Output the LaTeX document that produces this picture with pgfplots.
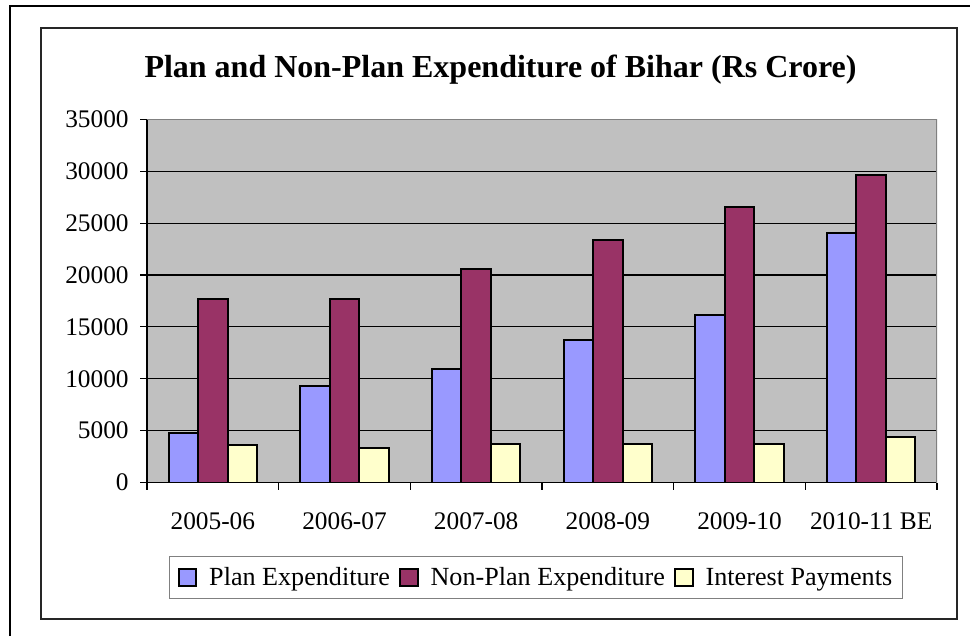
\documentclass[border=0pt]{standalone}
\usepackage{pgfplots}
\pgfplotsset{compat=1.18}
\usepackage{fontspec}
\setmainfont{Liberation Serif}

\definecolor{planc}{HTML}{9999FF}
\definecolor{nonplanc}{HTML}{993366}
\definecolor{interestc}{HTML}{FFFFCC}
\definecolor{plotbg}{HTML}{C0C0C0}
\definecolor{borderc}{HTML}{808080}

\begin{document}
\begin{tikzpicture}
% page size = 974 x 636 px at 0.75pt per px
\useasboundingbox (0,0) rectangle (730.5pt,477pt);
% outer page frame (left and top only)
\draw[line width=1.5pt] (7.5pt,0pt) -- (7.5pt,472.5pt) -- (727.5pt,472.5pt);
% chart frame
\draw[line width=1.5pt, black!85] (30.75pt,13.1pt) rectangle (717.75pt,456pt);
% title
\node[anchor=base, font=\fontsize{24}{28}\selectfont\bfseries] at (375.4pt,418.5pt)
  {Plan and Non-Plan Expenditure of Bihar (Rs Crore)};

\begin{axis}[
  at={(110.25pt,115.1pt)}, anchor=south west,
  scale only axis,
  width=592.5pt, height=272.4pt,
  ybar=0pt, bar width=0.224,
  xmin=-0.5, xmax=5.5,
  ymin=0, ymax=35000,
  ytick={0,5000,...,35000},
  scaled y ticks=false,
  xtick={0,...,5},
  xticklabels={2005-06,2006-07,2007-08,2008-09,2009-10,2010-11 BE},
  minor xtick={-0.5,0.5,...,5.5},
  major x tick style={draw=none},
  minor x tick style={black, line width=0.8pt},
  minor tick length=5.25pt,
  major tick length=5.25pt,
  tick align=outside,
  y tick style={black, line width=0.8pt},
  axis x line*=bottom, axis y line*=left,
  axis line style={black, line width=1pt},
  ymajorgrids, grid style={black, line width=0.8pt},
  axis background/.style={fill=plotbg},
  /pgf/number format/1000 sep={},
  /pgf/number format/assume math mode=true,
  ticklabel style={font=\fontsize{19}{22}\selectfont},
  xticklabel style={yshift=-14pt},
  yticklabel style={xshift=-5pt},
  legend columns=3,
  legend style={at={(0.4929,-0.2614)}, anchor=center, draw=borderc, line width=0.8pt,
    font=\fontsize{19.6}{22}\selectfont, inner xsep=6pt, inner ysep=6pt,
    /tikz/every even column/.append style={column sep=5pt},
    /tikz/every odd column/.append style={column sep=7pt}},
  legend image code/.code={\draw[#1, line width=1.5pt] (0pt,-6.5pt) rectangle (13pt,6.5pt);},
  every axis plot/.append style={draw=black, line width=1.5pt},
]
\addplot[fill=planc] coordinates {(0,4820) (1,9350) (2,10900) (3,13760) (4,16170) (5,24010)};
\addplot[fill=nonplanc] coordinates {(0,17650) (1,17710) (2,20570) (3,23340) (4,26550) (5,29640)};
\addplot[fill=interestc] coordinates {(0,3600) (1,3340) (2,3700) (3,3730) (4,3700) (5,4400)};
\legend{Plan Expenditure, Non-Plan Expenditure, Interest Payments}
\draw[borderc, line width=1.5pt] (rel axis cs:0,1) -- (rel axis cs:1,1) -- (rel axis cs:1,0);
\end{axis}
\end{tikzpicture}
\end{document}
